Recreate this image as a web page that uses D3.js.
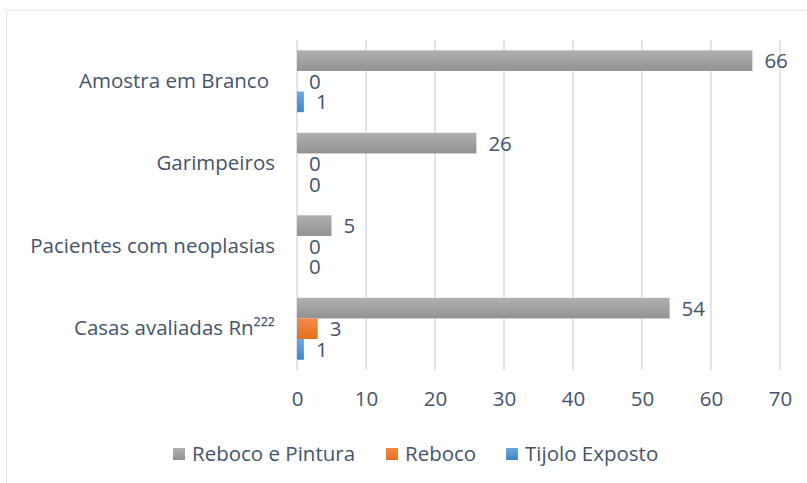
<!DOCTYPE html>
<html>
<head>
<meta charset="utf-8">
<script src="https://cdn.jsdelivr.net/npm/d3@7"></script>
<style>
  body { margin: 0; background: #fff; }
  text { font-family: "Open Sans", sans-serif; fill: #44546A; }
</style>
</head>
<body>
<svg id="chart" width="807" height="483"></svg>
<script>
// chart data
const categories = ["Amostra em Branco", "Garimpeiros", "Pacientes com neoplasias", "Casas avaliadas Rn²²²"];
const seriesNames = ["Reboco e Pintura", "Reboco", "Tijolo Exposto"];
const rebocoPintura = [66, 26, 5, 54];
const reboco = [0, 0, 0, 3];
const tijoloExposto = [1, 0, 0, 1];
const xTicks = [0, 10, 20, 30, 40, 50, 60, 70];

const seriesValues = [rebocoPintura, reboco, tijoloExposto];
const gradColors = [["#b0b0b0", "#929292"], ["#f48a4a", "#e56f1c"], ["#6fa9e0", "#3f85c8"]];
const FONT = "'Open Sans', sans-serif";
const FS = 20.5;

const svg = d3.select("#chart");

// frame
svg.append("rect")
    .attr("x", 6.5).attr("y", 10.5)
    .attr("width", 830).attr("height", 500)
    .attr("fill", "none")
    .attr("stroke", "#dfe3ea");

// gradients for the bars
const defs = svg.append("defs");
gradColors.forEach((c, i) => {
    const g = defs.append("linearGradient")
        .attr("id", "grad" + i)
        .attr("x1", 0).attr("y1", 0).attr("x2", 0).attr("y2", 1);
    g.append("stop").attr("offset", "0%").attr("stop-color", c[0]);
    g.append("stop").attr("offset", "100%").attr("stop-color", c[1]);
});

const plot = { left: 297, right: 780, top: 40, bottom: 370 };

const xScale = d3.scaleLinear()
    .domain([0, 70])
    .range([plot.left, plot.right]);

const yScale = d3.scaleBand()
    .domain(categories)
    .range([plot.top, plot.bottom])
    .paddingInner(0.25)
    .paddingOuter(0.125);

const subScale = d3.scaleBand()
    .domain(d3.range(seriesNames.length))
    .range([0, yScale.bandwidth()]);

// vertical grid lines
svg.append("g")
    .selectAll("line")
    .data(xTicks)
    .join("line")
        .attr("x1", d => xScale(d)).attr("x2", d => xScale(d))
        .attr("y1", plot.top).attr("y2", plot.bottom)
        .attr("stroke", "#e1e5eb")
        .attr("stroke-width", 2);

// x axis tick labels
const xAxis = svg.append("g")
    .attr("transform", `translate(0, ${plot.bottom})`)
    .call(d3.axisBottom(xScale).tickValues(xTicks).tickSize(0).tickPadding(21));
xAxis.select(".domain").remove();
xAxis.selectAll("text")
    .attr("font-size", FS)
    .attr("fill", "#44546A")
    .style("font-family", FONT);

// category labels
const yAxis = svg.append("g")
    .attr("transform", `translate(275, 0)`)
    .call(d3.axisLeft(yScale).tickSize(0).tickPadding(0));
yAxis.select(".domain").remove();
yAxis.selectAll("text")
    .attr("font-size", FS)
    .attr("fill", "#44546A")
    .attr("dx", (d, i) => i === 0 ? -6 : 0)
    .style("font-family", FONT);

// bars
const rows = [];
categories.forEach((cat, ci) => {
    seriesValues.forEach((vals, si) => {
        rows.push({ cat, si, value: vals[ci] });
    });
});

const groups = svg.append("g");
groups.selectAll("rect")
    .data(rows)
    .join("rect")
        .attr("x", xScale(0))
        .attr("y", d => yScale(d.cat) + subScale(d.si))
        .attr("width", d => xScale(d.value) - xScale(0))
        .attr("height", subScale.bandwidth())
        .attr("fill", d => `url(#grad${d.si})`);

// value labels
groups.selectAll("text")
    .data(rows)
    .join("text")
        .attr("x", d => xScale(d.value) + 12)
        .attr("y", d => yScale(d.cat) + subScale(d.si) + subScale.bandwidth() / 2)
        .attr("dy", "0.36em")
        .attr("font-size", FS)
        .text(d => d.value);

// legend
const legendX = [173, 386, 506];
const legend = svg.append("g");
seriesNames.forEach((name, i) => {
    legend.append("rect")
        .attr("x", legendX[i]).attr("y", 448)
        .attr("width", 12).attr("height", 12)
        .attr("fill", `url(#grad${i})`);
    legend.append("text")
        .attr("x", legendX[i] + 19)
        .attr("y", 461)
        .attr("font-size", FS)
        .text(name);
});
</script>
</body>
</html>
